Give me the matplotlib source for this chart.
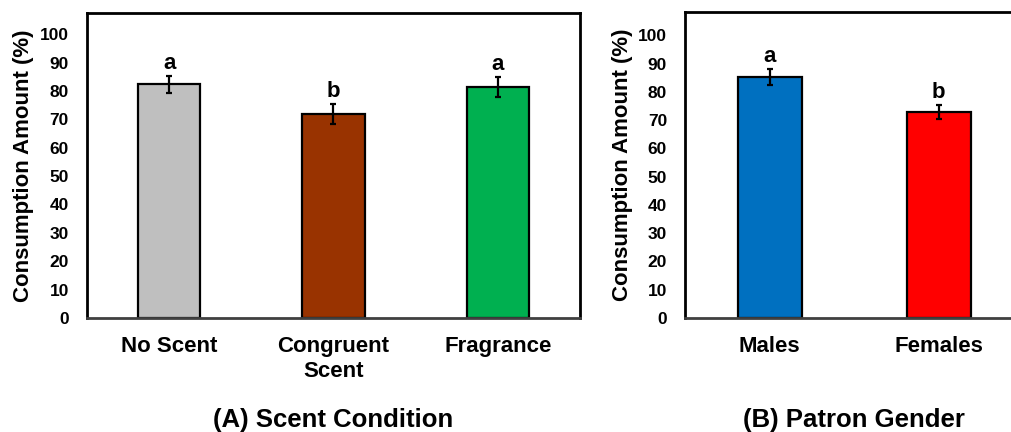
import matplotlib.pyplot as plt

plt.rcParams['font.family'] = ['Liberation Sans', 'DejaVu Sans']
plt.rcParams['font.weight'] = 'bold'

# panel A - scent condition
scent_labels = ['No Scent', 'Congruent\nScent', 'Fragrance']
scent_means = [82.4, 71.8, 81.4]
scent_err = [3.0, 3.6, 3.4]
scent_letters = ['a', 'b', 'a']
scent_colors = ['#BFBFBF', '#993300', '#00B050']

# panel B - patron gender
gender_labels = ['Males', 'Females']
gender_means = [85.2, 72.9]
gender_err = [2.8, 2.4]
gender_letters = ['a', 'b']
gender_colors = ['#0070C0', '#FF0000']

fig = plt.figure(figsize=(10.12, 4.32), dpi=100)
ax1 = fig.add_axes([0.086, 0.264, 0.487, 0.706])
ax2 = fig.add_axes([0.677, 0.264, 0.334, 0.708])


def draw(ax, labels, means, err, letters, colors, title, ymax):
    x = range(len(labels))
    ax.bar(x, means, width=0.38, color=colors, edgecolor='black', linewidth=1.6, zorder=2)
    ax.errorbar(x, means, yerr=err, fmt='none', ecolor='black', elinewidth=1.6,
                capsize=2.2, capthick=1.6, zorder=3)
    for i in x:
        ax.text(i, means[i] + err[i] + 2.5, letters[i], ha='center', va='baseline',
                fontsize=16, fontweight='bold')
    ax.set_xlim(-0.5, len(labels) - 0.5)
    ax.set_ylim(0, ymax)
    ax.set_yticks(range(0, 101, 10))
    ax.set_xticks(list(x))
    ax.set_xticklabels(labels, fontsize=16, fontweight='bold', linespacing=1.25)
    ax.tick_params(axis='both', length=0)
    ax.tick_params(axis='y', labelsize=12.5, pad=13)
    ax.tick_params(axis='x', pad=13)
    for lab in ax.get_yticklabels():
        lab.set_fontweight('bold')
    for s in ax.spines.values():
        s.set_linewidth(2)
        s.set_color('black')
    ax.spines['bottom'].set_color('#404040')
    ax.set_ylabel('Consumption Amount (%)', fontsize=16, fontweight='bold', labelpad=4)
    pos = ax.get_position()
    fig.text((pos.x0 + pos.x1) / 2, 0.028, title, ha='center', va='center',
             fontsize=18.5, fontweight='bold')


draw(ax1, scent_labels, scent_means, scent_err, scent_letters, scent_colors,
     '(A) Scent Condition', 107.5)
draw(ax2, gender_labels, gender_means, gender_err, gender_letters, gender_colors,
     '(B) Patron Gender', 108.2)

fig.savefig('out.png', dpi=100)
